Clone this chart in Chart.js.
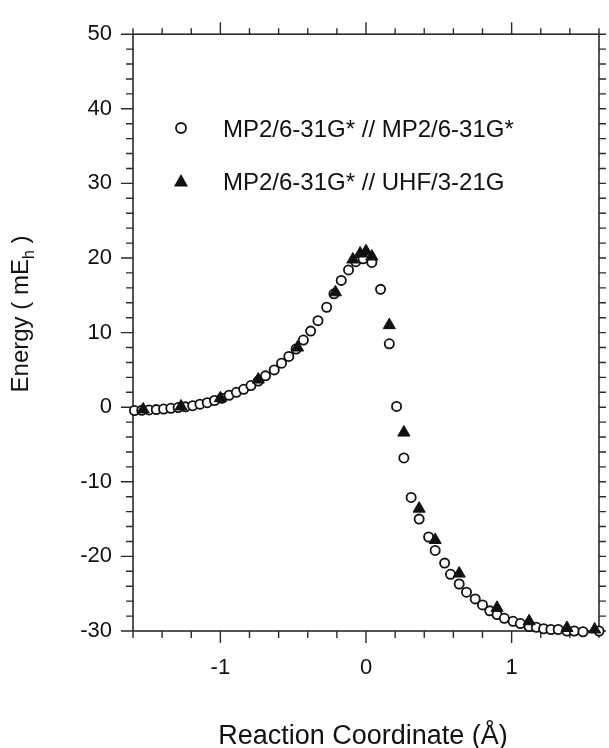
<!DOCTYPE html>
<html>
<head>
<meta charset="utf-8">
<script src="https://cdn.jsdelivr.net/npm/chart.js@4/dist/chart.umd.min.js"></script>
<style>
    html, body { margin: 0; padding: 0; background: #fff; }
    #wrap { width: 609px; height: 748px; }
</style>
</head>
<body>
<div id="wrap"><canvas id="myChart"></canvas></div>
<script>
const ctx = document.getElementById("myChart");

// MP2/6-31G* // MP2/6-31G*  (open circles)
const mp2X = [-1.59, -1.54, -1.49, -1.44, -1.39, -1.34, -1.29, -1.24, -1.19, -1.14, -1.09, -1.04,
    -0.99, -0.94, -0.89, -0.84, -0.79, -0.74, -0.69, -0.63, -0.58, -0.53, -0.48, -0.43, -0.38,
    -0.33, -0.27, -0.22, -0.17, -0.12, -0.07, -0.02, 0.04,
    0.10, 0.16, 0.21, 0.26, 0.31, 0.365, 0.43, 0.475, 0.54, 0.58, 0.64, 0.69, 0.75, 0.80, 0.85,
    0.90, 0.95, 1.01, 1.06, 1.12, 1.17, 1.22, 1.27, 1.32, 1.38, 1.43, 1.49, 1.60];
const mp2Y = [-0.45, -0.42, -0.37, -0.32, -0.25, -0.15, -0.05, 0.05, 0.2, 0.4, 0.6, 0.9,
    1.2, 1.6, 2.0, 2.4, 2.9, 3.5, 4.2, 5.0, 5.9, 6.8, 7.8, 9.0, 10.2,
    11.6, 13.4, 15.2, 17.0, 18.4, 19.5, 19.9, 19.4,
    15.8, 8.5, 0.1, -6.8, -12.1, -15.0, -17.4, -19.2, -20.9, -22.4, -23.7, -24.8, -25.7, -26.5, -27.3,
    -27.8, -28.3, -28.7, -29.0, -29.4, -29.5, -29.7, -29.8, -29.8, -30.0, -30.0, -30.1, -30.0];

// MP2/6-31G* // UHF/3-21G  (filled triangles)
const uhfX = [-1.53, -1.27, -1.00, -0.74, -0.47, -0.21, -0.09, -0.04, 0.00, 0.04,
    0.16, 0.26, 0.365, 0.475, 0.64, 0.90, 1.12, 1.38, 1.57];
const uhfY = [-0.3, 0.1, 1.2, 3.7, 8.0, 15.4, 19.8, 20.6, 20.9, 20.2,
    11.0, -3.4, -13.6, -17.8, -22.3, -26.9, -28.7, -29.6, -29.8];

const legendLabels = ["MP2/6-31G* // MP2/6-31G*", "MP2/6-31G* // UHF/3-21G"];
const xTickLabels = [-1, 0, 1];
const yTickLabels = [-30, -20, -10, 0, 10, 20, 30, 40, 50];

const ink = "#111";
const fontName = "'Liberation Sans', Arial, Helvetica, sans-serif";

function toPoints(xs, ys) {
    return xs.map((x, i) => ({ x: x, y: ys[i] }));
}

// frame, tick marks, titles, legend
const decor = {
    id: "decor",
    beforeDatasetsDraw(chart) {
        const c = chart.ctx;
        const a = chart.chartArea;
        const xs = chart.scales.x;
        const ys = chart.scales.y;
        c.save();
        c.strokeStyle = "#2a2a2a";
        c.lineWidth = 1.6;
        c.strokeRect(a.left, a.top, a.right - a.left, a.bottom - a.top);

        c.lineWidth = 1.4;
        c.beginPath();
        for (let i = -8; i <= 8; i++) {
            const v = i / 5;
            const px = xs.getPixelForValue(v);
            const major = i % 5 === 0;
            c.moveTo(px, a.bottom);
            c.lineTo(px, a.bottom + (major ? 12 : 7));
            c.moveTo(px, a.top);
            c.lineTo(px, a.top - (major ? 12 : 6));
        }
        for (let v = -30; v <= 50; v += 2) {
            const py = ys.getPixelForValue(v);
            const major = v % 10 === 0;
            c.moveTo(a.left, py);
            c.lineTo(a.left - (major ? 12 : 7), py);
            c.moveTo(a.right, py);
            c.lineTo(a.right + 7, py);
        }
        c.stroke();

        // x title
        c.fillStyle = ink;
        c.font = "27px " + fontName;
        c.textAlign = "center";
        c.textBaseline = "alphabetic";
        c.fillText("Reaction Coordinate (\u00C5)", (a.left + a.right) / 2 - 3, 744);

        // y title with subscript h
        c.translate(28, 314);
        c.rotate(-Math.PI / 2);
        const big = "24px " + fontName;
        const small = "16px " + fontName;
        c.font = big;
        const p1 = "Energy ( mE";
        const p3 = " )";
        const w1 = c.measureText(p1).width;
        const w3 = c.measureText(p3).width;
        c.font = small;
        const w2 = c.measureText("h").width;
        let x0 = -(w1 + w2 + w3) / 2;
        c.textAlign = "left";
        c.font = big;
        c.fillText(p1, x0, 0);
        c.font = small;
        c.fillText("h", x0 + w1, 6);
        c.font = big;
        c.fillText(p3, x0 + w1 + w2, 0);
        c.restore();

        // legend
        c.save();
        c.fillStyle = ink;
        c.strokeStyle = ink;
        c.lineWidth = 1.8;
        c.beginPath();
        c.arc(181, 128, 5, 0, Math.PI * 2);
        c.stroke();
        c.beginPath();
        c.moveTo(181, 174);
        c.lineTo(188, 186.5);
        c.lineTo(174, 186.5);
        c.closePath();
        c.fill();
        c.font = "24px " + fontName;
        c.textAlign = "left";
        c.fillText(legendLabels[0], 223, 137);
        c.fillText(legendLabels[1], 223, 189.5);
        c.restore();
    }
};

const data = {
    datasets: [
        {
            label: legendLabels[0],
            data: toPoints(mp2X, mp2Y),
            pointStyle: "circle",
            pointRadius: 4.6,
            borderWidth: 1.8,
            borderColor: ink,
            backgroundColor: "#fff",
            showLine: false,
            clip: false,
            order: 2,
        },
        {
            label: legendLabels[1],
            data: toPoints(uhfX, uhfY),
            pointStyle: "triangle",
            pointRadius: 7,
            borderWidth: 1,
            borderColor: ink,
            backgroundColor: ink,
            showLine: false,
            clip: false,
            order: 1,
        },
    ],
};

const config = {
    type: "scatter",
    data: data,
    plugins: [decor],
    options: {
        responsive: true,
        maintainAspectRatio: false,
        animation: false,
        layout: { padding: { left: 0, right: 10, top: 27, bottom: 0 } },
        plugins: {
            legend: { display: false },
            tooltip: { enabled: false },
        },
        scales: {
            x: {
                type: "linear",
                min: -1.6,
                max: 1.6,
                grid: { display: false, drawTicks: false },
                border: { display: false },
                afterFit: (s) => { s.height = 117; },
                afterBuildTicks: (s) => { s.ticks = xTickLabels.map((v) => ({ value: v })); },
                ticks: {
                    padding: 24,
                    color: ink,
                    font: { family: fontName, size: 22 },
                    callback: (v) => String(v),
                },
            },
            y: {
                type: "linear",
                min: -30,
                max: 50,
                grid: { display: false, drawTicks: false },
                border: { display: false },
                afterFit: (s) => { s.width = 133; },
                afterBuildTicks: (s) => { s.ticks = yTickLabels.map((v) => ({ value: v })); },
                ticks: {
                    padding: 21,
                    color: ink,
                    font: { family: fontName, size: 22 },
                    callback: (v) => String(v),
                },
            },
        },
    },
};

const myChart = new Chart(ctx, config);
</script>
</body>
</html>
